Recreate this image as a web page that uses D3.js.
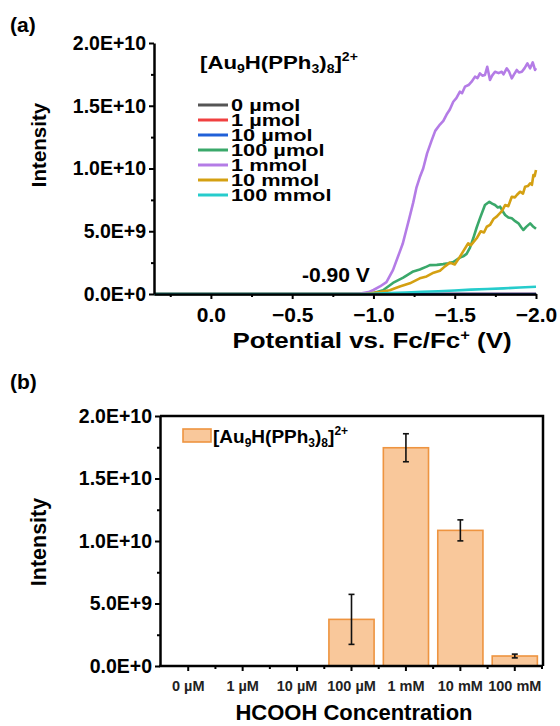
<!DOCTYPE html>
<html>
<head>
<meta charset="utf-8">
<style>body{margin:0;background:#fff}</style>
</head>
<body>
<script src="https://cdn.jsdelivr.net/npm/d3@7/dist/d3.min.js"></script>
<script>
const width = 560, height = 726;
const font = "'Liberation Sans', Arial, sans-serif";

// panel (a): [potential (V), intensity in units of 1E+10]
const s0umol = [[0.35, 0], [-2.0, 0]];
const s1umol = [[0.35, 0], [-2.0, 0]];
const s10umol = [[0.35, 0], [-2.0, 0]];
const s100umol = [[0.35, 0], [-0.95, 0], [-1.0, 0.008], [-1.059, 0.03], [-1.12, 0.088], [-1.183, 0.13],
  [-1.245, 0.18], [-1.285, 0.195], [-1.327, 0.218], [-1.347, 0.23], [-1.39, 0.232], [-1.429, 0.238],
  [-1.46, 0.245], [-1.491, 0.255], [-1.532, 0.29], [-1.552, 0.3], [-1.573, 0.32], [-1.594, 0.37],
  [-1.614, 0.444], [-1.635, 0.53], [-1.655, 0.603], [-1.686, 0.709], [-1.713, 0.735], [-1.73, 0.72],
  [-1.748, 0.709], [-1.765, 0.69], [-1.779, 0.696], [-1.795, 0.66], [-1.81, 0.63], [-1.83, 0.61],
  [-1.851, 0.603], [-1.872, 0.58], [-1.892, 0.563], [-1.91, 0.53], [-1.922, 0.51], [-1.94, 0.535],
  [-1.964, 0.563], [-1.98, 0.54], [-2.0, 0.52]];
const s1mmol = [[0.35, 0], [-0.85, 0], [-0.92, 0.003], [-0.97, 0.015], [-1.0, 0.032], [-1.04, 0.06],
  [-1.08, 0.095], [-1.12, 0.19], [-1.16, 0.33], [-1.18, 0.4], [-1.2, 0.5], [-1.22, 0.6], [-1.245, 0.73],
  [-1.265, 0.85], [-1.285, 0.93], [-1.306, 1.0], [-1.33, 1.12], [-1.357, 1.22], [-1.38, 1.3],
  [-1.409, 1.35], [-1.43, 1.38], [-1.45, 1.43], [-1.47, 1.47], [-1.491, 1.532], [-1.51, 1.56],
  [-1.532, 1.612], [-1.545, 1.6], [-1.563, 1.652], [-1.585, 1.665], [-1.604, 1.692], [-1.625, 1.732],
  [-1.64, 1.72], [-1.655, 1.758], [-1.67, 1.74], [-1.686, 1.745], [-1.7, 1.811], [-1.717, 1.705],
  [-1.73, 1.74], [-1.748, 1.771], [-1.77, 1.76], [-1.789, 1.771], [-1.8, 1.75], [-1.82, 1.798],
  [-1.835, 1.77], [-1.851, 1.718], [-1.865, 1.75], [-1.882, 1.785], [-1.895, 1.765], [-1.913, 1.771],
  [-1.93, 1.8], [-1.947, 1.838], [-1.964, 1.798], [-1.98, 1.846], [-1.994, 1.785], [-2.0, 1.8]];
const s10mmol = [[0.35, 0], [-0.95, 0], [-1.039, 0.015], [-1.1, 0.03], [-1.162, 0.06], [-1.224, 0.085],
  [-1.285, 0.125], [-1.327, 0.14], [-1.37, 0.17], [-1.409, 0.185], [-1.44, 0.22], [-1.47, 0.25],
  [-1.5, 0.235], [-1.532, 0.297], [-1.552, 0.34], [-1.583, 0.404], [-1.6, 0.39], [-1.635, 0.444],
  [-1.66, 0.5], [-1.68, 0.49], [-1.697, 0.536], [-1.717, 0.55], [-1.74, 0.6], [-1.758, 0.616],
  [-1.768, 0.63], [-1.79, 0.66], [-1.81, 0.709], [-1.83, 0.7], [-1.851, 0.775], [-1.87, 0.77],
  [-1.882, 0.789], [-1.902, 0.815], [-1.92, 0.8], [-1.933, 0.855], [-1.95, 0.86], [-1.964, 0.882],
  [-1.975, 0.87], [-1.984, 0.948], [-1.992, 0.94], [-2.0, 0.988]];
const s100mmol = [[0.35, 0], [-0.95, 0], [-1.0, 0.002], [-1.1, 0.008], [-1.2, 0.012], [-1.3, 0.018],
  [-1.4, 0.022], [-1.5, 0.028], [-1.6, 0.035], [-1.7, 0.04], [-1.8, 0.045], [-1.9, 0.052], [-2.0, 0.058]];

const seriesData = [s0umol, s1umol, s10umol, s100umol, s1mmol, s10mmol, s100mmol];
const seriesNames = ['0 µmol', '1 µmol', '10 µmol', '100 µmol', '1 mmol', '10 mmol', '100 mmol'];
const seriesColors = ['#555555', '#f04040', '#2060d8', '#3aa86a', '#b47ce6', '#d4a012', '#26cccc'];

// panel (b)
const concLabels = ['0 µM', '1 µM', '10 µM', '100 µM', '1 mM', '10 mM', '100 mM'];
const barMeans = [0, 0, 0, 0.373, 1.746, 1.085, 0.08];   // x1E+10
const barErrs = [0, 0, 0, 0.2, 0.112, 0.084, 0.015];

const yTicks = [0, 0.5e10, 1e10, 1.5e10, 2e10];
const yMinor = [0.25e10, 0.75e10, 1.25e10, 1.75e10];
const xTicksA = [0, -0.5, -1.0, -1.5, -2.0];
const xMinorA = [0.25, -0.25, -0.75, -1.25, -1.75];

const sci = d => {
  if (d === 0) return '0.0E+0';
  const e = Math.floor(Math.log10(d) + 1e-9);
  return (d / Math.pow(10, e)).toFixed(1) + 'E+' + e;
};

const svg = d3.select('body').append('svg')
  .attr('width', width).attr('height', height)
  .style('font-family', font).style('font-weight', 'bold');

function styleAxis(g) {
  g.select('.domain').attr('stroke-width', 2.5);
  g.selectAll('.tick line').attr('stroke-width', 2);
  g.selectAll('.tick text').attr('fill', '#000');
}

// ---------- panel (a) ----------
const xA = d3.scaleLinear().domain([0.35, -2.0]).range([154, 536]);
const yA = d3.scaleLinear().domain([0, 2e10]).range([294, 43]);

const line = d3.line().x(d => xA(d[0])).y(d => yA(d[1] * 1e10));

svg.append('g').selectAll('path')
  .data(seriesData)
  .enter()
  .append('path')
  .attr('d', line)
  .attr('fill', 'none')
  .attr('stroke', (d, i) => seriesColors[i])
  .attr('stroke-width', 2.6)
  .attr('stroke-linejoin', 'round');

svg.append('g').attr('transform', 'translate(154,0)')
  .call(d3.axisLeft(yA).tickValues(yMinor).tickSize(3).tickFormat(''))
  .call(g => g.select('.domain').remove())
  .call(g => g.selectAll('line').attr('stroke-width', 2));
svg.append('g').attr('transform', 'translate(0,294)')
  .call(d3.axisBottom(xA).tickValues(xMinorA).tickSize(3).tickFormat(''))
  .call(g => g.select('.domain').remove())
  .call(g => g.selectAll('line').attr('stroke-width', 2));

svg.append('g').attr('transform', 'translate(154,0)')
  .call(d3.axisLeft(yA).tickValues(yTicks).tickSize(5).tickSizeOuter(0).tickPadding(3).tickFormat(sci))
  .call(styleAxis)
  .call(g => g.selectAll('text').style('font-size', '19.5px').style('font-family', font));

svg.append('g').attr('transform', 'translate(0,294)')
  .call(d3.axisBottom(xA).tickValues(xTicksA).tickSize(5).tickSizeOuter(0).tickPadding(8).tickFormat(d3.format('.1f')))
  .call(styleAxis)
  .call(g => g.selectAll('text').style('font-size', '21px').style('font-family', font));

svg.append('text')
  .attr('transform', 'translate(46,145) rotate(-90)')
  .attr('text-anchor', 'middle')
  .style('font-size', '20.5px')
  .text('Intensity');

const xTitle = svg.append('text')
  .attr('transform', 'translate(372,348) scale(1.18,1)')
  .attr('text-anchor', 'middle')
  .style('font-size', '22px');
xTitle.append('tspan').text('Potential vs. Fc/Fc');
xTitle.append('tspan').attr('dy', -8).style('font-size', '14px').text('+');
xTitle.append('tspan').attr('dy', 8).text(' (V)');

svg.append('text')
  .attr('transform', 'translate(302,282) scale(1.08,1)')
  .style('font-size', '19.5px')
  .text('-0.90 V');

function complexTitle(sel, size) {
  sel.style('font-size', size + 'px');
  const sub = Math.round(size * 0.62);
  sel.append('tspan').text('[Au');
  sel.append('tspan').attr('dy', 4).style('font-size', sub + 'px').text('9');
  sel.append('tspan').attr('dy', -4).text('H(PPh');
  sel.append('tspan').attr('dy', 4).style('font-size', sub + 'px').text('3');
  sel.append('tspan').attr('dy', -4).text(')');
  sel.append('tspan').attr('dy', 4).style('font-size', sub + 'px').text('8');
  sel.append('tspan').attr('dy', -4).text(']');
  sel.append('tspan').attr('dy', -8).style('font-size', sub + 'px').text('2+');
}

complexTitle(svg.append('text').attr('transform', 'translate(200,69) scale(1.17,1)'), 19);

const legA = svg.append('g').selectAll('g')
  .data(seriesNames)
  .enter()
  .append('g')
  .attr('transform', (d, i) => `translate(198,${105 + i * 15})`);
legA.append('line')
  .attr('x1', 0).attr('x2', 30)
  .attr('stroke', (d, i) => seriesColors[i])
  .attr('stroke-width', 3);
legA.append('text')
  .attr('transform', 'translate(33,6) scale(1.32,1)')
  .style('font-size', '16.5px')
  .text(d => d);

svg.append('text').attr('x', 10).attr('y', 32).style('font-size', '21px').text('(a)');

// ---------- panel (b) ----------
const xB = d3.scaleBand().domain(concLabels).range([161, 542]).paddingInner(0.17).paddingOuter(0.085);
const yB = d3.scaleLinear().domain([0, 2e10]).range([666, 416]);
const barData = concLabels.map((c, i) => ({c: c, v: barMeans[i] * 1e10, e: barErrs[i] * 1e10}))
  .filter(d => d.v > 0);

svg.append('g').selectAll('rect')
  .data(barData)
  .enter()
  .append('rect')
  .attr('x', d => xB(d.c))
  .attr('width', xB.bandwidth())
  .attr('y', d => yB(d.v))
  .attr('height', d => yB(0) - yB(d.v))
  .attr('fill', '#f9c89b')
  .attr('stroke', '#ee9440')
  .attr('stroke-width', 1.6);

const err = svg.append('g').selectAll('g')
  .data(barData)
  .enter()
  .append('g')
  .attr('stroke', '#111')
  .attr('stroke-width', 1.6);
err.append('line')
  .attr('x1', d => xB(d.c) + xB.bandwidth() / 2).attr('x2', d => xB(d.c) + xB.bandwidth() / 2)
  .attr('y1', d => yB(d.v + d.e)).attr('y2', d => yB(d.v - d.e));
[1, -1].forEach(s => {
  err.append('line')
    .attr('x1', d => xB(d.c) + xB.bandwidth() / 2 - 3).attr('x2', d => xB(d.c) + xB.bandwidth() / 2 + 3)
    .attr('y1', d => yB(d.v + s * d.e)).attr('y2', d => yB(d.v + s * d.e));
});

// frame
svg.append('path')
  .attr('d', `M${xB.range()[0] - 1},${yB(2e10)}H${xB.range()[1] + 1}V${yB(0)}`)
  .attr('fill', 'none').attr('stroke', '#000').attr('stroke-width', 2.5);

svg.append('g').attr('transform', 'translate(160,0)')
  .call(d3.axisLeft(yB).tickValues(yMinor).tickSize(3).tickFormat(''))
  .call(g => g.select('.domain').remove())
  .call(g => g.selectAll('line').attr('stroke-width', 2));

svg.append('g').selectAll('line')
  .data(concLabels)
  .enter()
  .append('line')
  .attr('x1', d => xB(d) + xB.bandwidth() / 2 + xB.step() / 2)
  .attr('x2', d => xB(d) + xB.bandwidth() / 2 + xB.step() / 2)
  .attr('y1', yB(0)).attr('y2', yB(0) + 3)
  .attr('stroke', '#000').attr('stroke-width', 2);

svg.append('g').attr('transform', 'translate(160,0)')
  .call(d3.axisLeft(yB).tickValues(yTicks).tickSize(5).tickSizeOuter(0).tickPadding(3).tickFormat(sci))
  .call(styleAxis)
  .call(g => g.selectAll('text').style('font-size', '19.5px').style('font-family', font));

svg.append('g').attr('transform', `translate(0,${yB(0)})`)
  .call(d3.axisBottom(xB).tickSize(5).tickSizeOuter(0).tickPadding(10))
  .call(styleAxis)
  .call(g => g.select('.domain').attr('d', `M159,0H543`))
  .call(g => g.selectAll('text').style('font-size', '14.5px').style('font-family', font).attr('fill', '#222'));

svg.append('text')
  .attr('transform', 'translate(46,542) rotate(-90)')
  .attr('text-anchor', 'middle')
  .style('font-size', '21.5px')
  .text('Intensity');

svg.append('text')
  .attr('x', 354).attr('y', 720)
  .attr('text-anchor', 'middle')
  .style('font-size', '22px')
  .text('HCOOH Concentration');

svg.append('rect')
  .attr('x', 183).attr('y', 429).attr('width', 28).attr('height', 13)
  .attr('fill', '#f9c89b').attr('stroke', '#ee9440').attr('stroke-width', 1.6);
complexTitle(svg.append('text').attr('x', 213).attr('y', 443), 19);

svg.append('text').attr('x', 10).attr('y', 389).style('font-size', '21px').text('(b)');
</script>
</body>
</html>
